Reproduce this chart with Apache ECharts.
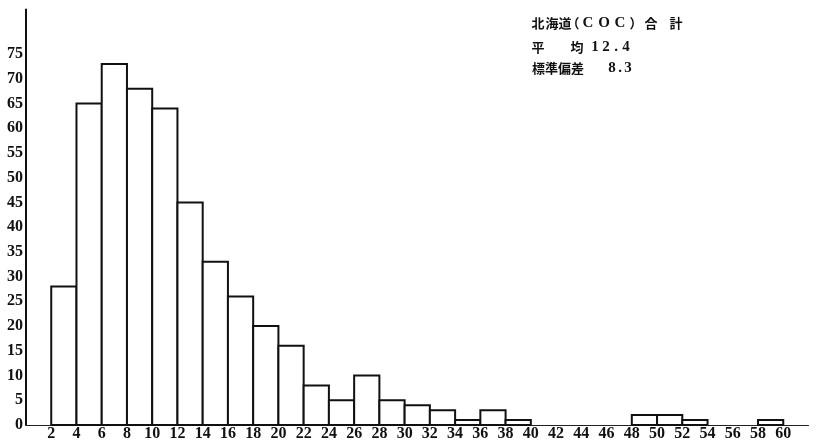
<!DOCTYPE html>
<html><head><meta charset="utf-8">
<script src="https://cdn.jsdelivr.net/npm/echarts@6/dist/echarts.min.js"></script>
<style>html,body{margin:0;padding:0;background:#fff}#c{width:827px;height:442px}</style>
</head><body><div id="c"></div>
<script>
// bin lower edges (width 2) and counts
const binStarts = [2,4,6,8,10,12,14,16,18,20,22,24,26,28,30,32,34,36,38,40,42,44,46,48,50,52,54,56,58];
const counts    = [28,65,73,68,64,45,33,26,20,16,8,5,10,5,4,3,1,3,1,0,0,0,0,2,2,1,0,0,1];
const binWidth = 2;
const yTicks = [0,5,10,15,20,25,30,35,40,45,50,55,60,65,70,75];
const xTicks = [2,4,6,8,10,12,14,16,18,20,22,24,26,28,30,32,34,36,38,40,42,44,46,48,50,52,54,56,58,60];
const titleText = '北海道（COC）合 計';
const meanLabel = '平　　均';
const meanValue = '12.4';
const sdLabel = '標準偏差';
const sdValue = '8.3';

const data = binStarts.map((s,i)=>[s, s+binWidth, counts[i]]).filter(d=>d[2]>0);
const chart = echarts.init(document.getElementById('c'));
const font = '"Liberation Serif", serif';
const cjk = 'bold 13px "Noto Sans CJK JP", sans-serif';
const num = 'bold 15px "Liberation Serif", serif';

// place characters of a string at given x centers
function chars(str, xs, y, f){
  return Array.from(str).map((ch,i)=>({type:'text',x:xs[i],y:y,
    style:{text:ch,font:f,fill:'#111',textAlign:'center',textVerticalAlign:'middle'}}));
}
const t1 = Array.from(titleText).filter(c=>c!==' ');
const g = [].concat(
  chars('北海道', [538,552,565], 23, cjk),
  chars('（', [573], 23, cjk),
  chars('COC', [588,604,620], 23, num),
  chars('）', [636], 23, cjk),
  chars('合', [651], 23, cjk),
  chars('計', [676], 23, cjk),
  chars('平均', [538,577], 47, cjk),
  chars(meanValue, [595,606,616,626], 47, num),
  chars(sdLabel, [538.5,551.5,564.5,577.5], 68, cjk),
  chars(sdValue, [612,620,628], 68, num)
);
chart.setOption({
  animation:false,
  grid:{left:26,right:18.5,top:9.5,bottom:16},
  xAxis:{type:'value',min:0,max:62,interval:2,
    axisLine:{show:true,lineStyle:{color:'#222',width:1}},
    axisTick:{show:false},splitLine:{show:false},
    axisLabel:{margin:1,color:'#111',fontFamily:font,fontWeight:'bold',fontSize:16,
      formatter:v=>xTicks.indexOf(v)>=0?String(v):''}},
  yAxis:{type:'value',min:0,max:84,interval:5,
    axisLine:{show:true,lineStyle:{color:'#111',width:2}},
    axisTick:{show:false},splitLine:{show:false},
    axisLabel:{margin:3,color:'#111',fontFamily:font,fontWeight:'bold',fontSize:16,
      padding:[7,0,0,0],
      formatter:v=>yTicks.indexOf(v)>=0?String(v):''}},
  series:[{type:'custom',data:data,
    renderItem:function(params,api){
      const p0=api.coord([api.value(0),api.value(2)]);
      const p1=api.coord([api.value(1),0]);
      return {type:'rect',shape:{x:p0[0],y:p0[1],width:p1[0]-p0[0],height:p1[1]-p0[1]},
        style:{fill:'#fff',stroke:'#111',lineWidth:2}};
    }}],
  graphic:g
});
</script></body></html>
